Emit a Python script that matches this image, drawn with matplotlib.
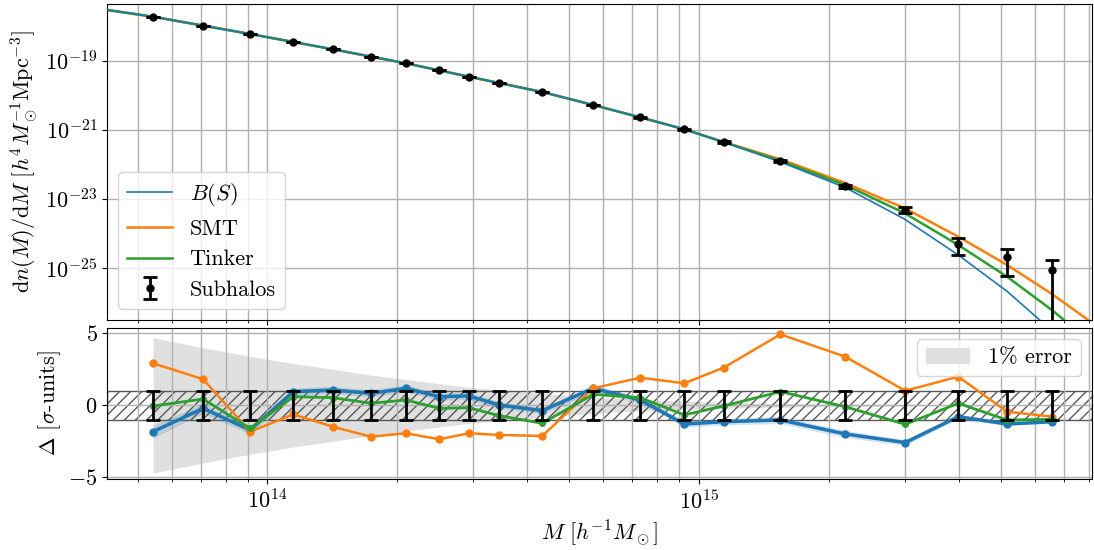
import numpy as np
import matplotlib
matplotlib.use("Agg")
import matplotlib.pyplot as plt
from matplotlib.ticker import NullLocator, FixedLocator

plt.rcParams['font.family'] = 'serif'
plt.rcParams['font.serif'] = ['cmr10', 'DejaVu Serif']
plt.rcParams['mathtext.fontset'] = 'cm'
plt.rcParams['axes.formatter.use_mathtext'] = True
plt.rcParams['font.size'] = 16

# ---------------- data ----------------
log_mass = [13.735, 13.851, 13.960, 14.060, 14.152, 14.240, 14.321, 14.398, 14.467,
            14.537, 14.637, 14.755, 14.864, 14.966, 15.057, 15.189, 15.339, 15.478,
            15.601, 15.714, 15.819]
log_dndm = [-17.725, -17.986, -18.226, -18.458, -18.670, -18.884, -19.075, -19.270,
            -19.464, -19.638, -19.907, -20.284, -20.641, -20.988, -21.357, -21.899,
            -22.641, -23.328, -24.322, -24.699, -25.067]
rel_err = [0.002, 0.0025, 0.003, 0.0035, 0.004, 0.005, 0.0055, 0.0065, 0.008, 0.0095,
           0.012, 0.018, 0.025, 0.035, 0.05, 0.08, 0.12, 0.2, 0.5, 0.71, 1.0]

# model curves (log10 M, log10 dn/dM)
curve_logm_common = [13.629, 13.735, 13.960, 14.152, 14.321, 14.467, 14.637, 14.755,
                     14.864, 14.966, 15.057]
curve_logy_common = [-17.530, -17.725, -18.226, -18.670, -19.075, -19.464, -19.907,
                     -20.284, -20.641, -20.988, -21.357]
bs_logm = [15.189, 15.339, 15.476, 15.601, 15.714, 15.788, 15.820]
bs_logy = [-21.936, -22.675, -23.588, -24.632, -25.684, -26.496, -26.900]
smt_logm = [15.189, 15.339, 15.476, 15.601, 15.714, 15.819, 15.900, 15.911]
smt_logy = [-21.858, -22.545, -23.270, -24.101, -24.919, -25.771, -26.496, -26.620]
tinker_logm = [15.189, 15.339, 15.476, 15.601, 15.714, 15.819, 15.844, 15.860]
tinker_logy = [-21.899, -22.603, -23.414, -24.342, -25.261, -26.238, -26.496, -26.700]

# residuals in sigma units
delta_bs = [-1.83, -0.21, -1.72, 0.95, 1.06, 0.83, 1.18, 0.60, 0.65, 0.02, -0.37,
            1.18, 0.37, -1.30, -1.14, -1.02, -1.99, -2.59, -0.79, -1.30, -1.14]
delta_smt = [2.92, 1.81, -1.83, -0.63, -1.49, -2.18, -1.94, -2.36, -1.94, -2.06, -2.13,
             1.18, 1.92, 1.53, 2.61, 4.93, 3.38, 1.01, 1.99, -0.44, -0.79]
delta_tinker = [-0.05, 0.44, -1.60, 0.60, 0.53, 0.14, 0.37, -0.21, -0.17, -0.72, -1.25,
                0.76, 0.53, -0.67, -0.05, 0.95, -0.10, -1.32, 0.14, -1.02, -0.97]
band_bs = [0.45, 0.35, 0.30, 0.25, 0.25, 0.25, 0.25, 0.25, 0.25, 0.22, 0.2, 0.25, 0.22,
           0.22, 0.22, 0.25, 0.25, 0.2, 0.15, 0.1, 0.1]
one_percent = [4.7, 4.0, 3.4, 2.9, 2.5, 2.1, 1.8, 1.5, 1.25, 1.05, 0.83, 0.55, 0.40,
               0.29, 0.20, 0.13, 0.08, 0.05, 0.02, 0.014, 0.01]

xlim = (10**13.629, 10**15.911)

# ---------------- figure ----------------
fig = plt.figure(figsize=(10.94, 5.5), dpi=100)
ax1 = fig.add_axes([0.0981, 0.4182, 0.9001, 0.5745])
ax2 = fig.add_axes([0.0981, 0.1291, 0.9001, 0.2745], sharex=ax1)

M = 10**np.array(log_mass)
y = 10**np.array(log_dndm)
yerr = y * np.array(rel_err)

cm_x = list(curve_logm_common)
cm_y = list(curve_logy_common)
ax1.plot(10**np.array(cm_x + bs_logm), 10**np.array(cm_y + bs_logy),
         color='C0', lw=1.2, label='$B(S)$', zorder=3)
ax1.plot(10**np.array(cm_x + smt_logm), 10**np.array(cm_y + smt_logy),
         color='C1', lw=1.8, label='SMT', zorder=2)
ax1.plot(10**np.array(cm_x + tinker_logm), 10**np.array(cm_y + tinker_logy),
         color='C2', lw=1.8, label='Tinker', zorder=2.5)
ax1.errorbar(M, y, yerr=yerr, fmt='o', color='k', ms=5, lw=2, capsize=5,
             capthick=2, label='Subhalos', zorder=4)

ax1.set_xscale('log')
ax1.set_yscale('log')
ax1.set_xlim(*xlim)
ax1.set_ylim(10**-26.516, 10**-17.357)
ax1.yaxis.set_major_locator(FixedLocator([1e-25, 1e-23, 1e-21, 1e-19]))
ax1.yaxis.set_minor_locator(NullLocator())
ax1.grid(True, which='major', color='#b0b0b0', lw=1)
ax1.grid(True, which='minor', axis='x', color='#b0b0b0', lw=1)
ax1.tick_params(axis='x', which='both', labelbottom=False)
ax1.set_ylabel(r'$\mathrm{d}n(M)/\mathrm{d}M\ [h^4M_\odot^{-1}\mathrm{Mpc}^{-3}]$')
ax1.legend(loc='lower left', fontsize=16)

# residual panel
ax2.fill_between(M, -np.array(one_percent), np.array(one_percent), color='#e0e0e0',
                 lw=0, label='1% error', zorder=1)
ax2.fill_between(xlim, [-1, -1], [1, 1], facecolor='none', edgecolor='0.35',
                 hatch='///', lw=1, zorder=1.5)
ax2.fill_between(M, np.array(delta_bs) - np.array(band_bs),
                 np.array(delta_bs) + np.array(band_bs), color='C0', alpha=0.2,
                 lw=0, zorder=2)
ax2.plot(M, delta_bs, '-o', color='C0', lw=2.5, ms=5, zorder=3)
ax2.plot(M, delta_smt, '-o', color='C1', lw=1.8, ms=5, zorder=3)
ax2.plot(M, delta_tinker, '-o', color='C2', lw=2, ms=4, zorder=3.5)
ax2.errorbar(M, np.zeros(len(M)), yerr=np.ones(len(M)), fmt='none', ecolor='k',
             lw=2, capsize=5, capthick=2, zorder=4)

ax2.set_xscale('log')
ax2.set_xlim(*xlim)
ax2.set_ylim(-5.12, 5.37)
ax2.set_yticks([-5, 0, 5])
ax2.grid(True, which='major', color='#b0b0b0', lw=1)
ax2.grid(True, which='minor', axis='x', color='#b0b0b0', lw=1)
ax2.set_ylabel(r'$\Delta$ [$\sigma$-units]')
ax2.set_xlabel(r'$M\ [h^{-1}M_\odot]$')
ax2.legend(loc='upper right', fontsize=16)

fig.align_ylabels([ax1, ax2])
fig.savefig('out.png', dpi=100)
